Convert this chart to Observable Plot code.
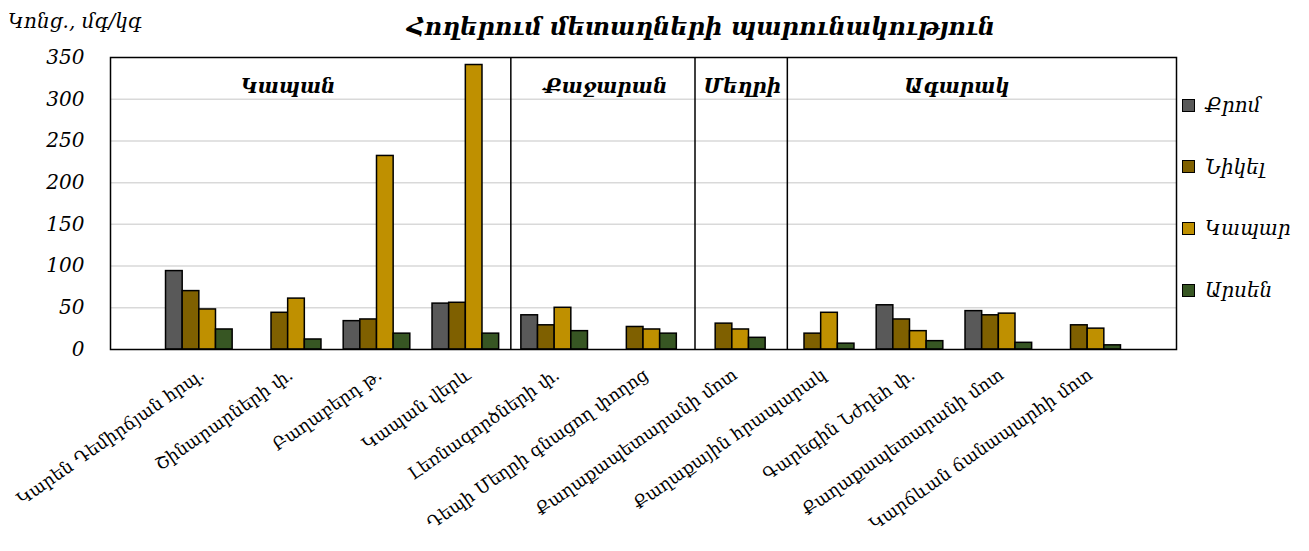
<!DOCTYPE html>
<html>
<head>
<meta charset="utf-8">
<script src="https://cdn.jsdelivr.net/npm/d3@7"></script>
<script src="https://cdn.jsdelivr.net/npm/@observablehq/plot@0.6"></script>
<style>
  html, body { margin: 0; padding: 0; background: #fff; }
  #wrap { position: relative; width: 1309px; height: 551px; overflow: hidden; font-family: "DejaVu Serif", serif; }
  #head { position: relative; height: 45px; }
  #ylabel { position: absolute; left: 8px; top: 9px; font-size: 20px; font-style: italic; white-space: nowrap; }
  #title { position: absolute; left: 701px; top: 12px; transform: translateX(-50%); font-size: 24px; font-weight: bold; font-style: italic; white-space: nowrap; }
  #legend { position: absolute; left: 1182px; top: 94px; display: flex; flex-direction: column; gap: 39.7px; }
  .item { display: flex; align-items: center; height: 22px; font-size: 20px; font-style: italic; white-space: nowrap; }
  .sw { width: 11px; height: 11px; border: 1.5px solid #000; margin-right: 10px; }
</style>
</head>
<body>
<div id="wrap">
  <div id="head"><div id="ylabel"></div><div id="title"></div></div>
  <div id="chart"></div>
  <div id="legend"></div>
</div>
<script>
const title = "Հողերում մետաղների պարունակություն";
const yLabel = "Կոնց., մգ/կգ";
const categories = [
  "Կարեն Դեմիրճյան հրպ.",
  "Շինարարների փ.",
  "Բաղաբերդ թ.",
  "Կապան վերև",
  "Լեռնագործների փ.",
  "Դեպի Մեղրի գնացող փողոց",
  "Քաղաքապետարանի մոտ",
  "Քաղաքային հրապարակ",
  "Գարեգին Նժդեհ փ.",
  "Քաղաքապետարանի մոտ",
  "Կարճևան ճանապարհի մոտ"
];
const regions = ["Կապան", "Քաջարան", "Մեղրի", "Ագարակ"];
const series = ["Քրոմ", "Նիկել", "Կապար", "Արսեն"];
const chrome  = [94, null, 34, 55, 41, null, null, null, 53, 46, null];
const nickel  = [70, 44, 36, 56, 29, 27, 31, 19, 36, 41, 29];
const lead    = [48, 61, 232, 341, 50, 24, 24, 44, 22, 43, 25];
const arsenic = [24, 12, 19, 19, 22, 19, 14, 7, 10, 8, 5];
const yTicks = [0, 50, 100, 150, 200, 250, 300, 350];
const colors = ["#595959", "#7f6000", "#bf9000", "#375623"];

document.getElementById("title").textContent = title;
document.getElementById("ylabel").textContent = yLabel;

const keys = categories.map((_, i) => String(i));
const values = [chrome, nickel, lead, arsenic];
const rows = [];
series.forEach((s, si) => values[si].forEach((v, i) => { if (v != null) rows.push({key: keys[i], series: s, si, value: v}); }));
const catRows = categories.map((label, i) => ({key: keys[i], label}));

const W = 1309, H = 506, mL = 110, mR = 133, mT = 12, mB = 202;
const step = (W - mL - mR) / 12;
const q = step * 0.75 / 4;
const font = "DejaVu Serif, serif";

const barMarks = series.map((s, si) => Plot.barY(rows.filter(r => r.si === si), {
  x: "key", y: "value", fill: "series", stroke: "#000", strokeWidth: 1.5,
  insetLeft: si * q, insetRight: (3 - si) * q
}));

const regionText = (key, label, dx) => Plot.text([{key, label}], {
  x: "key", text: "label", frameAnchor: "top", dy: 21, dx,
  fontSize: 20, fontWeight: "bold", fontStyle: "italic", fontFamily: font, fill: "#000"
});

const chart = Plot.plot({
  width: W, height: H,
  marginLeft: mL, marginRight: mR, marginTop: mT, marginBottom: mB,
  x: {type: "band", domain: keys, paddingInner: 0.25, paddingOuter: 0.625, round: false, axis: null},
  y: {domain: [0, 350], axis: null},
  color: {domain: series, range: colors},
  style: {fontFamily: font, background: "#fff", overflow: "visible"},
  marks: [
    Plot.ruleY(yTicks.filter(v => v > 0 && v < 350), {y: d => d, stroke: "#d9d9d9", strokeWidth: 1.5}),
    ...barMarks,
    Plot.ruleX(["3"], {x: d => d, dx: 45, stroke: "#000", strokeWidth: 1.5}),
    Plot.ruleX(["5"], {x: d => d, dx: 51.5, stroke: "#000", strokeWidth: 1.5}),
    Plot.ruleX(["6"], {x: d => d, dx: 55, stroke: "#000", strokeWidth: 1.5}),
    regionText("1", regions[0], 0),
    regionText("4", regions[1], 51),
    regionText("6", regions[2], 10),
    regionText("8", regions[3], 47),
    Plot.frame({stroke: "#000", strokeWidth: 1.5}),
    Plot.text(yTicks, {y: d => d, text: d => String(d), frameAnchor: "left", textAnchor: "end", dx: -26,
      fontSize: 20, fontStyle: "italic", fontFamily: font, fill: "#000"}),
    Plot.text(catRows, {x: "key", text: "label", frameAnchor: "bottom", rotate: -35, textAnchor: "end",
      dx: 6, dy: 28, fontSize: 17.5, fontFamily: font, fill: "#000"})
  ]
});
document.getElementById("chart").appendChild(chart);

const legend = document.getElementById("legend");
series.forEach((s, i) => {
  const it = document.createElement("div");
  it.className = "item";
  const sw = document.createElement("div");
  sw.className = "sw";
  sw.style.background = colors[i];
  const tx = document.createElement("span");
  tx.textContent = s;
  it.appendChild(sw); it.appendChild(tx);
  legend.appendChild(it);
});
</script>
</body>
</html>
